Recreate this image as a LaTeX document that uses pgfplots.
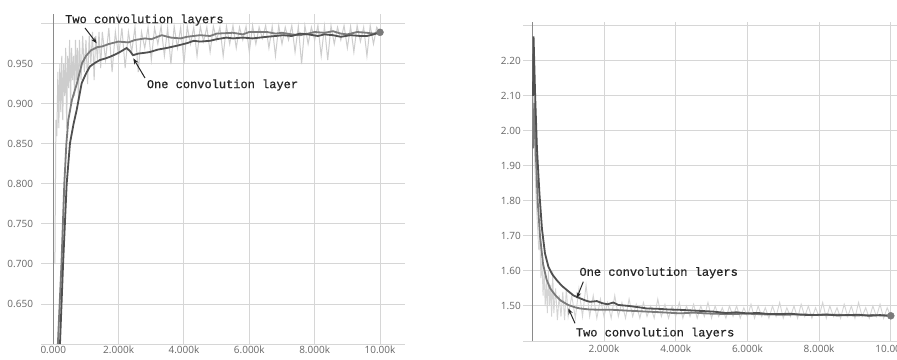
\documentclass[border=0pt]{standalone}
\usepackage{fontspec}
\setmainfont{Open Sans}
\newfontfamily\annofont[FakeBold=0.6]{Liberation Mono}
\usepackage{pgfplots}
\pgfplotsset{compat=1.18}
\usetikzlibrary{arrows.meta}
\definecolor{gridc}{HTML}{D6D6D6}
\definecolor{rawc}{HTML}{CDCDCD}
\definecolor{twoc}{HTML}{7A7A7A}
\definecolor{onec}{HTML}{505050}
\definecolor{tickc}{HTML}{666666}
\definecolor{annoc}{HTML}{262626}
\definecolor{zeroc}{HTML}{8A8A8A}

\pgfplotsset{tbstyle/.style={
  scale only axis,
  axis line style={draw=none},
  major tick length=0pt,
  tick style={draw=none},
  grid=major,
  grid style={gridc, line width=1pt},
  /pgf/number format/assume math mode=true,
  ticklabel style={font=\fontsize{10}{12}\selectfont, text=tickc},
  extra x ticks={0},
  extra x tick labels={},
  extra x tick style={grid=major, major grid style={zeroc, line width=1.3pt}},
}}

\pgfplotstableread{
x y
50 0.70
80 0.88
110 0.86
140 0.94
170 0.87
200 0.95
230 0.89
260 0.96
290 0.88
320 0.95
350 0.91
380 0.97
410 0.87
440 0.96
470 0.92
500 0.98
530 0.90
560 0.97
590 0.93
620 0.96
650 0.91
680 0.98
710 0.93
740 0.97
770 0.90
800 0.98
850 0.93
900 0.985
950 0.94
1000 0.98
1050 0.925
1100 0.985
1150 0.95
1200 0.99
1250 0.93
1300 0.985
1350 0.955
1400 0.99
1450 0.945
1500 0.99
1600 0.955
1700 0.995
1800 0.94
1900 0.99
2000 0.96
2100 0.995
2200 0.945
2300 0.99
2400 0.965
2500 0.996
2600 0.94
2700 0.99
2800 0.97
2900 0.996
3000 0.955
3100 0.995
3200 0.975
3300 0.997
3400 0.96
3500 0.995
3600 0.95
3700 0.997
3800 0.97
3900 0.996
4000 0.95
4100 0.997
4200 0.975
4300 0.996
4400 0.96
4500 0.997
4600 0.978
4700 0.996
4800 0.965
4900 0.997
5000 0.98
5100 0.996
5200 0.96
5300 0.997
5400 0.975
5500 0.998
5600 0.97
5700 0.996
5800 0.98
5900 0.997
6000 0.965
6100 0.998
6200 0.975
6300 0.996
6400 0.982
6500 0.998
6600 0.97
6700 0.997
6800 0.96
6900 0.998
7000 0.975
7100 0.996
7200 0.98
7300 0.998
7400 0.965
7500 0.997
7600 0.95
7700 0.998
7800 0.975
7900 0.996
8000 0.98
8100 0.998
8200 0.96
8300 0.997
8400 0.955
8500 0.998
8600 0.975
8700 0.996
8800 0.98
8900 0.998
9000 0.97
9100 0.997
9200 0.965
9300 0.998
9400 0.978
9500 0.996
9600 0.96
9700 0.998
9800 0.975
9900 0.996
10000 0.99
}\accraw

\pgfplotstableread{
x y
140 0.600
250 0.700
337 0.800
400 0.850
460 0.880
570 0.905
725 0.926
880 0.951
1000 0.960
1150 0.967
1340 0.971
1500 0.972
1700 0.975
1990 0.978
2300 0.977
2500 0.980
2807 0.982
3000 0.981
3318 0.986
3600 0.983
3900 0.982
4090 0.984
4490 0.986
4800 0.985
5000 0.988
5500 0.989
5800 0.987
6000 0.990
6540 0.990
6800 0.988
7000 0.989
7300 0.987
7550 0.986
7800 0.988
8000 0.990
8300 0.989
8560 0.991
8800 0.988
9000 0.987
9300 0.990
9600 0.989
9800 0.988
10000 0.9896
}\acctwo

\pgfplotstableread{
x y
205 0.600
300 0.700
410 0.800
511 0.851
620 0.875
716 0.8925
869 0.926
1000 0.938
1123 0.947
1300 0.952
1430 0.955
1600 0.957
1735 0.959
1900 0.962
2041 0.965
2245 0.970
2350 0.966
2440 0.961
2600 0.963
2800 0.964
2960 0.965
3200 0.968
3470 0.970
3800 0.973
4090 0.976
4300 0.979
4490 0.978
4800 0.979
5000 0.981
5300 0.983
5500 0.982
5800 0.983
6100 0.982
6540 0.984
6800 0.985
7030 0.986
7300 0.985
7550 0.988
7800 0.987
8100 0.985
8300 0.987
8560 0.986
8800 0.984
9100 0.986
9400 0.985
9600 0.985
9800 0.987
10000 0.9896
}\accone

\pgfplotstableread{
x y
30 2.10
60 1.95
90 1.85
120 1.78
150 1.72
180 1.66
210 1.70
240 1.58
270 1.63
300 1.53
330 1.60
360 1.50
390 1.57
420 1.48
450 1.60
480 1.50
510 1.56
540 1.47
570 1.60
600 1.48
650 1.55
700 1.46
750 1.53
800 1.47
850 1.54
900 1.46
950 1.55
1000 1.47
1100 1.53
1200 1.465
1300 1.55
1400 1.47
1500 1.56
1600 1.47
1700 1.53
1800 1.465
1900 1.52
2000 1.47
2100 1.51
2200 1.465
2300 1.53
2400 1.47
2500 1.51
2600 1.465
2700 1.52
2800 1.47
2900 1.505
3000 1.465
3100 1.51
3200 1.47
3300 1.50
3400 1.465
3500 1.52
3600 1.47
3700 1.505
3800 1.465
3900 1.50
4000 1.47
4100 1.51
4200 1.465
4300 1.50
4400 1.47
4500 1.505
4600 1.465
4700 1.50
4800 1.47
4900 1.51
5000 1.465
5100 1.50
5200 1.47
5300 1.495
5400 1.465
5500 1.50
5600 1.47
5700 1.50
5800 1.465
5900 1.495
6000 1.47
6100 1.505
6200 1.465
6300 1.50
6400 1.47
6500 1.495
6600 1.465
6700 1.50
6800 1.47
6900 1.51
7000 1.465
7100 1.495
7200 1.47
7300 1.50
7400 1.465
7500 1.505
7600 1.47
7700 1.50
7800 1.465
7900 1.495
8000 1.47
8100 1.51
8200 1.465
8300 1.50
8400 1.47
8500 1.495
8600 1.465
8700 1.505
8800 1.47
8900 1.50
9000 1.465
9100 1.51
9200 1.47
9300 1.495
9400 1.465
9500 1.50
9600 1.47
9700 1.505
9800 1.465
9900 1.495
10000 1.47
}\lossraw

\pgfplotstableread{
x y
20 2.10
35 2.27
80 2.10
130 1.95
200 1.82
270 1.72
354 1.65
450 1.612
560 1.590
680 1.574
820 1.558
959 1.546
1150 1.530
1330 1.522
1500 1.515
1610 1.512
1800 1.514
1950 1.508
2100 1.505
2260 1.510
2400 1.503
2700 1.500
3000 1.496
3190 1.493
3500 1.492
3800 1.490
4120 1.489
4500 1.487
5050 1.484
5400 1.480
5700 1.482
5980 1.479
6300 1.480
6600 1.477
6910 1.477
7200 1.478
7500 1.475
7840 1.474
8200 1.476
8500 1.473
8770 1.474
9100 1.475
9400 1.472
9700 1.474
10000 1.472
}\lossone

\pgfplotstableread{
x y
20 1.95
56 2.08
100 1.93
150 1.80
215 1.70
300 1.62
400 1.575
500 1.550
650 1.530
800 1.515
1000 1.503
1200 1.496
1330 1.493
1600 1.490
2000 1.489
2260 1.489
2600 1.487
3000 1.485
3190 1.484
3600 1.482
4120 1.479
4500 1.481
5000 1.478
5500 1.477
6000 1.478
6500 1.476
7000 1.475
7500 1.476
8000 1.474
8500 1.475
9000 1.473
9500 1.474
10000 1.472
}\losstwo

\begin{document}
\begin{tikzpicture}[x=1pt,y=1pt]
\useasboundingbox (0,0) rectangle (897,359);
\clip (0,0) rectangle (897,359);
\fill[white] (0,0) rectangle (897,359);

% ---------------- left: accuracy ----------------
\begin{axis}[tbstyle,
  at={(41pt,15pt)}, anchor=south west,
  width=364pt, height=330pt,
  xmin=-376, xmax=10765,
  ymin=0.6, ymax=1.0125,
  xtick={0,2000,4000,6000,8000,10000},
  xticklabels={0.000,2.000k,4.000k,6.000k,8.000k,10.00k},
  ytick={0.6,0.65,0.7,0.75,0.8,0.85,0.9,0.95,1.0},
  yticklabels={,0.650,0.700,0.750,0.800,0.850,0.900,0.950,},
  yticklabel style={xshift=-4.5pt},
  xticklabel style={yshift=1.5pt},
]
\addplot[rawc, line width=1pt] table {\accraw};
\addplot[twoc, line width=1.8pt] table {\acctwo};
\addplot[onec, line width=1.8pt] table {\accone};
\addplot[only marks, mark=*, mark size=3.5pt, twoc] coordinates {(10000,0.9896)};
\end{axis}

% ---------------- right: loss ----------------
\begin{axis}[tbstyle,
  at={(523.3pt,18pt)}, anchor=south west,
  width=394.7pt, height=318.9pt,
  xmin=-251, xmax=10759,
  ymin=1.4, ymax=2.311,
  xtick={0,2000,4000,6000,8000,10000},
  xticklabels={,2.000k,4.000k,6.000k,8.000k,10.00k},
  ytick={1.4,1.5,1.6,1.7,1.8,1.9,2.0,2.1,2.2,2.3},
  yticklabels={,1.50,1.60,1.70,1.80,1.90,2.00,2.10,2.20,},
  yticklabel style={xshift=1pt},
  xticklabel style={yshift=-0.5pt},
]
\addplot[rawc!85!white, line width=0.9pt] table {\lossraw};
\addplot[twoc, line width=1.8pt] table {\losstwo};
\addplot[onec, line width=1.8pt] table {\lossone};
\addplot[only marks, mark=*, mark size=3.5pt, twoc] coordinates {(10000,1.472)};
\end{axis}

% ---------------- annotations ----------------
\tikzset{anno/.style={font=\annofont\fontsize{12}{14}\selectfont, text=annoc, anchor=west, inner sep=0pt},
         annoarrow/.style={annoc, line width=1pt, -{Stealth[length=6pt,width=4.5pt]}}}
\node[anno] at (65,339) {Two convolution layers};
\draw[annoarrow] (85,331) -- (96.7,315.7);
\node[anno] at (146.7,274) {One convolution layer};
\draw[annoarrow] (145,281) -- (133.3,300.7);
\node[anno] at (579.3,86.3) {One convolution layers};
\draw[annoarrow] (583.3,77.3) -- (576.7,60.7);
\node[anno] at (575.7,25.7) {Two convolution layers};
\draw[annoarrow] (575,35.7) -- (568.3,50.7);
\end{tikzpicture}
\end{document}
